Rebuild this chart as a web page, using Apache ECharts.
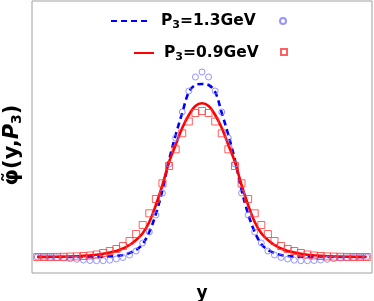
<!DOCTYPE html>
<html><head><meta charset="utf-8">
<script src="https://cdn.jsdelivr.net/npm/echarts@6/dist/echarts.min.js"></script>
<style>html,body{margin:0;padding:0;background:#fff}#c{width:374px;height:301px}</style>
</head><body><div id="c"></div>
<script>
// x positions (sample index, arbitrary units)
const xs = [-25,-24,-23,-22,-21,-20,-19,-18,-17,-16,-15,-14,-13,-12,-11,-10,-9,-8,-7,-6,-5,-4,-3,-2,-1,0,1,2,3,4,5,6,7,8,9,10,11,12,13,14,15,16,17,18,19,20,21,22,23,24,25];
// data points P3=1.3GeV (circles)
const dataHigh = [0,-0.001,-0.003,-0.006,-0.01,-0.017,-0.023,-0.03,-0.035,-0.037,-0.037,-0.032,-0.02,-0.005,0.02,0.06,0.14,0.25,0.42,0.64,0.93,1.19,1.45,1.66,1.80,1.85,1.80,1.66,1.45,1.19,0.93,0.64,0.42,0.25,0.14,0.06,0.02,-0.005,-0.02,-0.032,-0.037,-0.037,-0.035,-0.03,-0.023,-0.017,-0.01,-0.006,-0.003,-0.001,0];
// data points P3=0.9GeV (squares)
const dataLow = [0,0,0,0.001,0.002,0.004,0.006,0.01,0.015,0.025,0.04,0.06,0.08,0.11,0.16,0.23,0.32,0.437,0.58,0.737,0.91,1.077,1.237,1.355,1.44,1.46,1.44,1.355,1.237,1.077,0.91,0.737,0.58,0.437,0.32,0.23,0.16,0.11,0.08,0.06,0.04,0.025,0.015,0.01,0.006,0.004,0.002,0.001,0,0,0];
// fitted curve P3=1.3GeV (dashed)
const curveHigh = [0,0,0,0,0,0,0,0,0.001,0.002,0.003,0.005,0.01,0.02,0.04,0.07,0.13,0.25,0.43,0.67,0.97,1.22,1.44,1.65,1.72,1.73,1.72,1.65,1.44,1.22,0.97,0.67,0.43,0.25,0.13,0.07,0.04,0.02,0.01,0.005,0.003,0.002,0.001,0,0,0,0,0,0,0,0];
// fitted curve P3=0.9GeV (solid)
const curveLow = [0.001,0.001,0.002,0.003,0.004,0.006,0.008,0.012,0.017,0.023,0.032,0.045,0.06,0.085,0.12,0.17,0.237,0.35,0.52,0.72,0.95,1.12,1.29,1.42,1.51,1.537,1.51,1.42,1.29,1.12,0.95,0.72,0.52,0.35,0.237,0.17,0.12,0.085,0.06,0.045,0.032,0.023,0.017,0.012,0.008,0.006,0.004,0.003,0.002,0.001,0.001];
const names = ['P3=1.3GeV','P3=0.9GeV','P3=1.3GeV pts','P3=0.9GeV pts'];
const labelHigh = 'P{s|3}=1.3GeV';
const labelLow = 'P{s|3}=0.9GeV';

const pair = (ys) => xs.map((x,i)=>[x, ys[i]]);
const FONT = 'DejaVu Sans';
const legText = {fontFamily:FONT,fontWeight:'bold',fontSize:15.5,color:'#000',padding:[0,0,0,5],
  rich:{s:{fontFamily:FONT,fontWeight:'bold',fontSize:11,color:'#000',verticalAlign:'bottom',padding:[8,0,0,0]}}};
const chart = echarts.init(document.getElementById('c'), null, {renderer:'canvas'});
chart.setOption({
  animation:false,
  grid:{left:32,right:2,top:1,bottom:28,containLabel:false,outerBoundsMode:'none',show:true,borderColor:'#a0a0a0',borderWidth:1},
  legend:[
    {data:[names[0]],left:110,top:13,padding:0,itemWidth:40,itemHeight:14,itemGap:0,formatter:()=>labelHigh,textStyle:legText,itemStyle:{opacity:0}},
    {data:[names[1]],left:133,top:45,padding:0,itemWidth:20,itemHeight:14,itemGap:0,formatter:()=>labelLow,textStyle:legText,itemStyle:{opacity:0}},
    {data:[{name:names[2],icon:'circle'}],left:279,top:17,padding:0,itemWidth:6,itemHeight:6,formatter:()=>'',textStyle:{fontSize:1}},
    {data:[{name:names[3],icon:'rect'}],left:280,top:48,padding:0,itemWidth:6,itemHeight:6,formatter:()=>'',textStyle:{fontSize:1}}
  ],
  xAxis:{type:'value',min:-25.8,max:25.8,axisLine:{show:false},axisTick:{show:false},axisLabel:{show:false},splitLine:{show:false},
    name:'y',nameLocation:'middle',nameGap:12,nameTextStyle:{fontFamily:FONT,fontWeight:'bold',fontSize:17,color:'#000'}},
  yAxis:{type:'value',min:-0.16,max:2.56,axisLine:{show:false},axisTick:{show:false},axisLabel:{show:false},splitLine:{show:false},
    name:'φ̃(y,{i|P}{s|3})',nameLocation:'middle',nameRotate:90,nameGap:8,
    nameTextStyle:{fontFamily:FONT,fontWeight:'bold',fontSize:21,color:'#000',padding:[0,16,0,0],
      rich:{i:{fontFamily:FONT,fontWeight:'bold',fontStyle:'italic',fontSize:21,color:'#000'},
            s:{fontFamily:FONT,fontWeight:'bold',fontSize:14,color:'#000',verticalAlign:'bottom',padding:[9,0,0,0]}}}},
  series:[
    {name:names[0],type:'line',data:pair(curveHigh),smooth:0.35,symbol:'none',
      lineStyle:{color:'#0000ff',width:2.6,type:[6,4]},itemStyle:{color:'#0000ff'},z:2},
    {name:names[1],type:'line',data:pair(curveLow),smooth:0.35,symbol:'none',
      lineStyle:{color:'#ff0000',width:2.6},itemStyle:{color:'#ff0000'},z:2},
    {name:names[2],type:'scatter',data:pair(dataHigh),symbol:'circle',symbolSize:6,
      itemStyle:{color:'rgba(0,0,0,0)',borderColor:'#7b7bff',borderWidth:1},z:3},
    {name:names[3],type:'scatter',data:pair(dataLow),symbol:'rect',symbolSize:7,
      itemStyle:{color:'rgba(0,0,0,0)',borderColor:'#ff3a3a',borderWidth:1},z:3}
  ]
});
</script></body></html>
